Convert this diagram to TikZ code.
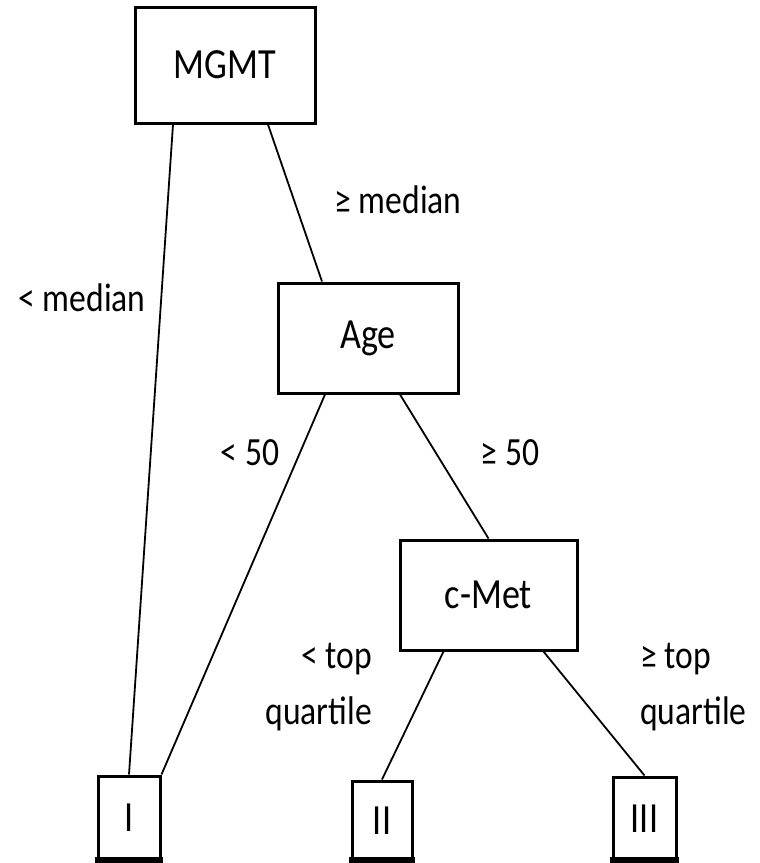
\documentclass[tikz,border=0pt]{standalone}
\usepackage{fontspec}
\setmainfont[FakeStretch=0.84]{Carlito}
\begin{document}
\begin{tikzpicture}[x=1pt,y=-1pt,
  box/.style={draw=black,line width=3pt,rectangle,inner sep=0pt,font=\fontsize{43}{48}\selectfont},
  lbl/.style={inner sep=0pt,font=\fontsize{40}{56}\selectfont},
  conn/.style={line width=1.8pt}]
\useasboundingbox (0,0) rectangle (760,863);
\node[box,minimum width=180pt,minimum height=116pt] (mgmt) at (225,65) {MGMT};
\node[box,minimum width=180pt,minimum height=110pt] (age) at (368,338) {Age};
\node[box,minimum width=177pt,minimum height=110pt] (cmet) at (488.5,595) {c-Met};
\node[box,minimum width=62pt,minimum height=84pt] (t1) at (129,818) {I};
\node[box,minimum width=60pt,minimum height=79pt] (t2) at (382,820.5) {II};
\node[box,minimum width=63pt,minimum height=83pt] (t3) at (644.5,818.5) {III};
\fill[black] ([xshift=-1.5pt,yshift=-1.5pt]t1.south west) rectangle ([xshift=1.5pt,yshift=5pt]t1.south east);
\fill[black] ([xshift=-1.5pt,yshift=-1.5pt]t2.south west) rectangle ([xshift=1.5pt,yshift=5pt]t2.south east);
\fill[black] ([xshift=-1.5pt,yshift=-1.5pt]t3.south west) rectangle ([xshift=1.5pt,yshift=5pt]t3.south east);
\draw[conn] ([xshift=-52pt]mgmt.south) -- (t1.north);
\draw[conn] ([xshift=43pt]mgmt.south) -- ([xshift=-46pt]age.north);
\draw[conn] ([xshift=-43pt]age.south) -- (t1.north east);
\draw[conn] ([xshift=32pt]age.south) -- (cmet.north);
\draw[conn] ([xshift=-45pt]cmet.south) -- (t2.north);
\draw[conn] ([xshift=55pt]cmet.south) -- (t3.north);
\node[lbl] (l1) at (82,298) {< median};
\node[lbl] (l2) at (398,200) {≥ median};
\node[lbl] (l3) at (250,453) {< 50};
\node[lbl] (l4) at (510,453) {≥ 50};
\node[lbl,anchor=east,align=right] (l5) at (372,687) {< top\\quartile};
\node[lbl,anchor=west,align=left] (l6) at (640,687) {≥ top\\quartile};
\end{tikzpicture}
\end{document}
